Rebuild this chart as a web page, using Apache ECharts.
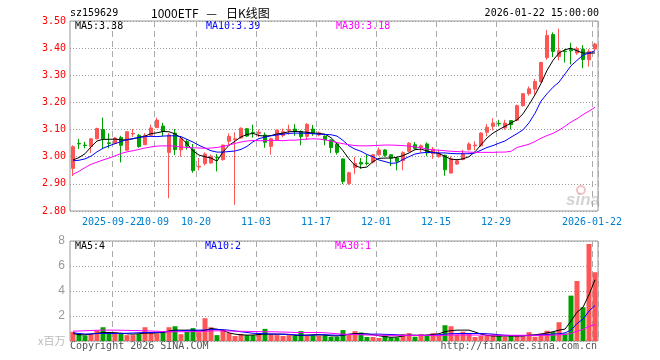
<!DOCTYPE html>
<html><head><meta charset="utf-8">
<script src="https://cdn.jsdelivr.net/npm/echarts@6/dist/echarts.min.js"></script>
<style>html,body{margin:0;padding:0;background:#fff;}#c{width:660px;height:360px;}</style>
</head><body><div id="c"></div>
<script>
const dates = ['2025-09-11','2025-09-12','2025-09-15','2025-09-16','2025-09-17','2025-09-18','2025-09-19','2025-09-22','2025-09-23','2025-09-24','2025-09-25','2025-09-26','2025-09-29','2025-09-30',
'2025-10-09','2025-10-10','2025-10-13','2025-10-14','2025-10-15','2025-10-16','2025-10-17','2025-10-20','2025-10-21','2025-10-22','2025-10-23','2025-10-24','2025-10-27','2025-10-28','2025-10-29','2025-10-30','2025-10-31',
'2025-11-03','2025-11-04','2025-11-05','2025-11-06','2025-11-07','2025-11-10','2025-11-11','2025-11-12','2025-11-13','2025-11-14','2025-11-17','2025-11-18','2025-11-19','2025-11-20','2025-11-21','2025-11-24','2025-11-25','2025-11-26','2025-11-27','2025-11-28',
'2025-12-01','2025-12-02','2025-12-03','2025-12-04','2025-12-05','2025-12-08','2025-12-09','2025-12-10','2025-12-11','2025-12-12','2025-12-15','2025-12-16','2025-12-17','2025-12-18','2025-12-19','2025-12-22','2025-12-23','2025-12-24','2025-12-25','2025-12-26','2025-12-29','2025-12-30','2025-12-31',
'2026-01-05','2026-01-06','2026-01-07','2026-01-08','2026-01-09','2026-01-12','2026-01-13','2026-01-14','2026-01-15','2026-01-16','2026-01-19','2026-01-20','2026-01-21','2026-01-22'];

const opens = [2.957,3.049,3.043,3.038,3.066,3.100,3.051,3.049,3.071,3.024,3.084,3.079,3.044,3.079,
3.107,3.113,3.016,3.087,3.025,3.056,3.027,2.962,2.975,2.977,2.998,2.989,3.057,3.063,3.069,3.103,3.090,
3.086,3.080,3.038,3.060,3.078,3.097,3.102,3.092,3.075,3.102,3.080,3.076,3.062,3.047,2.992,2.901,2.960,2.979,2.977,2.980,
3.007,3.025,3.007,2.995,2.986,3.020,3.044,3.035,3.047,3.011,3.000,3.005,2.940,2.973,2.990,3.026,3.040,3.040,3.090,3.112,3.123,3.106,3.133,
3.134,3.188,3.232,3.249,3.277,3.365,3.450,3.369,3.389,3.395,3.382,3.396,3.357,3.397];
const closes = [3.037,3.047,3.041,3.066,3.104,3.066,3.049,3.069,3.042,3.092,3.086,3.038,3.079,3.106,
3.135,3.093,3.080,3.026,3.066,3.039,2.949,2.965,3.010,3.002,2.996,3.043,3.075,3.066,3.105,3.076,3.087,
3.090,3.053,3.066,3.098,3.092,3.100,3.093,3.074,3.119,3.085,3.088,3.062,3.034,3.016,2.909,2.941,2.975,2.973,2.975,3.007,
3.025,3.005,2.995,2.983,3.015,3.050,3.030,3.040,3.014,3.028,3.011,2.952,2.992,2.985,3.010,3.047,3.043,3.087,3.109,3.124,3.121,3.124,3.118,
3.188,3.232,3.250,3.277,3.347,3.447,3.388,3.390,3.387,3.390,3.398,3.358,3.388,3.415];
const lows = [2.929,3.028,3.031,3.014,3.064,3.032,3.031,3.048,2.979,3.023,3.073,3.033,3.043,3.078,
3.106,3.076,2.847,3.006,3.000,3.026,2.941,2.950,2.968,2.974,2.946,2.986,3.043,2.823,3.067,3.073,3.070,
3.072,3.033,3.008,3.058,3.072,3.081,3.077,3.042,3.063,3.077,3.075,3.042,3.013,3.008,2.899,2.897,2.936,2.955,2.968,2.975,
3.004,3.000,2.965,2.950,2.950,3.017,3.027,3.015,3.002,2.992,2.997,2.930,2.938,2.970,2.987,3.023,3.024,3.038,3.075,3.097,3.112,3.100,3.100,
3.131,3.185,3.225,3.228,3.273,3.357,3.367,3.355,3.347,3.340,3.375,3.326,3.332,3.390];
const highs = [3.042,3.066,3.055,3.069,3.107,3.144,3.086,3.072,3.077,3.093,3.102,3.084,3.087,3.118,
3.144,3.125,3.087,3.102,3.075,3.064,3.047,2.995,3.016,3.008,3.010,3.044,3.086,3.090,3.108,3.106,3.118,
3.100,3.089,3.070,3.100,3.104,3.118,3.120,3.097,3.124,3.117,3.093,3.079,3.064,3.051,2.993,2.945,2.999,2.995,3.008,3.010,
3.034,3.028,3.010,3.000,3.020,3.054,3.054,3.045,3.053,3.036,3.026,3.008,3.001,2.990,3.026,3.053,3.057,3.090,3.120,3.142,3.136,3.136,3.135,
3.192,3.235,3.259,3.286,3.350,3.467,3.458,3.472,3.396,3.420,3.405,3.411,3.396,3.420];

const ma5 = [2.988,2.997,3.011,3.036,3.058,3.064,3.064,3.065,3.062,3.062,3.066,3.071,3.076,3.085,
3.088,3.093,3.092,3.084,3.070,3.048,3.022,3.006,3.000,2.995,2.984,3.018,3.042,3.057,3.073,3.082,3.086,
3.078,3.076,3.078,3.084,3.087,3.092,3.093,3.092,3.090,3.087,3.086,3.083,3.070,3.048,3.022,2.992,2.968,2.959,2.962,2.982,
2.994,2.995,2.995,2.998,3.004,3.014,3.026,3.028,3.021,3.016,3.012,3.001,2.991,2.989,2.992,3.000,3.018,3.044,3.069,3.087,3.100,3.112,3.124,
3.136,3.158,3.192,3.228,3.270,3.318,3.355,3.382,3.394,3.400,3.390,3.382,3.382,3.382];
const ma10 = [2.985,2.987,2.992,3.002,3.018,3.031,3.040,3.048,3.056,3.063,3.067,3.071,3.074,3.075,
3.074,3.076,3.077,3.077,3.074,3.064,3.054,3.042,3.032,3.022,3.017,3.017,3.019,3.021,3.027,3.038,3.055,
3.067,3.072,3.077,3.080,3.083,3.086,3.087,3.087,3.086,3.085,3.083,3.082,3.081,3.076,3.060,3.040,3.028,3.020,3.008,3.000,
2.988,2.982,2.976,2.977,2.990,3.000,3.010,3.014,3.016,3.015,3.014,3.014,3.012,3.011,3.011,3.011,3.014,3.024,3.034,3.041,3.050,3.058,3.072,
3.085,3.099,3.125,3.160,3.205,3.232,3.256,3.275,3.305,3.335,3.355,3.374,3.382,3.390];
const ma30 = [2.935,2.946,2.960,2.972,2.980,2.988,2.995,3.003,3.012,3.018,3.022,3.027,3.032,3.036,
3.039,3.040,3.040,3.039,3.036,3.034,3.033,3.032,3.031,3.032,3.034,3.038,3.043,3.049,3.054,3.058,3.060,
3.059,3.059,3.060,3.060,3.059,3.061,3.061,3.063,3.065,3.066,3.065,3.062,3.058,3.052,3.048,3.044,3.041,3.040,3.040,3.041,
3.042,3.043,3.043,3.042,3.041,3.039,3.036,3.033,3.028,3.025,3.024,3.022,3.020,3.019,3.018,3.017,3.016,3.016,3.016,3.016,3.017,3.017,3.020,
3.034,3.040,3.046,3.056,3.068,3.078,3.086,3.098,3.112,3.128,3.140,3.155,3.168,3.182];

const volumes = [0.74,0.60,0.45,0.53,0.87,1.10,0.66,0.68,0.60,0.47,
0.47,0.55,1.10,0.71,0.60,0.74,1.10,1.18,0.55,0.74,
1.03,0.71,1.82,1.10,0.47,0.92,0.63,0.40,0.55,0.47,
0.47,0.58,0.97,0.53,0.47,0.40,0.47,0.40,0.79,0.45,
0.47,0.45,0.47,0.34,0.34,0.87,0.53,0.79,0.68,0.32,
0.32,0.24,0.45,0.29,0.29,0.55,0.63,0.34,0.55,0.40,
0.63,0.45,1.26,1.18,0.53,0.74,0.55,0.32,0.40,0.40,
0.53,0.45,0.34,0.45,0.45,0.45,0.71,0.34,0.60,0.82,
0.71,1.50,0.60,3.63,4.80,2.70,7.76,5.50];
const vma5 = [0.60,0.50,0.50,0.55,0.62,0.68,0.68,0.66,0.62,0.58,
0.55,0.58,0.63,0.63,0.65,0.68,0.80,0.87,0.87,0.87,
0.85,0.80,0.85,1.00,0.95,0.85,0.65,0.55,0.50,0.47,
0.48,0.52,0.55,0.55,0.55,0.55,0.52,0.45,0.45,0.47,
0.50,0.52,0.48,0.42,0.40,0.45,0.55,0.60,0.60,0.57,
0.50,0.42,0.35,0.30,0.32,0.40,0.47,0.46,0.45,0.48,
0.52,0.58,0.75,0.83,0.87,0.87,0.87,0.72,0.55,0.45,
0.40,0.40,0.40,0.40,0.40,0.42,0.46,0.50,0.55,0.65,
0.74,0.87,0.95,1.60,2.30,2.70,3.70,4.90];
const vma10 = [0.65,0.60,0.56,0.57,0.60,0.60,0.60,0.60,0.61,0.62,
0.64,0.66,0.68,0.68,0.69,0.72,0.76,0.80,0.82,0.85,
0.87,0.87,0.88,0.90,0.92,0.90,0.87,0.80,0.74,0.68,
0.62,0.60,0.58,0.56,0.55,0.54,0.53,0.50,0.47,0.46,
0.47,0.49,0.50,0.48,0.46,0.50,0.52,0.53,0.55,0.55,
0.55,0.55,0.53,0.52,0.50,0.47,0.45,0.45,0.45,0.45,
0.46,0.50,0.55,0.58,0.60,0.60,0.60,0.60,0.60,0.58,
0.55,0.50,0.46,0.44,0.42,0.42,0.44,0.46,0.49,0.52,
0.55,0.58,0.65,0.87,1.40,1.75,2.40,2.84];
const vma30 = [0.79,0.80,0.82,0.84,0.86,0.87,0.87,0.87,0.86,0.85,
0.84,0.83,0.82,0.80,0.78,0.75,0.74,0.74,0.74,0.74,
0.75,0.76,0.78,0.80,0.82,0.81,0.80,0.79,0.78,0.77,
0.76,0.75,0.74,0.74,0.73,0.72,0.70,0.68,0.68,0.68,
0.68,0.68,0.66,0.62,0.58,0.55,0.53,0.52,0.50,0.48,
0.47,0.46,0.46,0.45,0.45,0.45,0.45,0.45,0.45,0.45,
0.45,0.45,0.46,0.47,0.48,0.48,0.48,0.48,0.47,0.47,
0.46,0.46,0.46,0.46,0.46,0.46,0.46,0.46,0.46,0.46,
0.47,0.50,0.52,0.60,0.79,0.92,1.18,1.32];

const tickDates = ['2025-09-22','2025-10-09','2025-10-20','2025-11-03','2025-11-17','2025-12-01','2025-12-15','2025-12-29','2026-01-22'];
const tickLabels = ['2025-09-22','10-09','10-20','11-03','11-17','12-01','12-15','12-29','2026-01-22'];
const priceTicks = [2.8, 3.5, 0.1];
const volTicks = [0, 8, 2];

const UP = '#ff5555', DOWN = '#00a000';
const MONO = 'DejaVu Sans Mono';
const candleData = dates.map((d, i) => [opens[i], closes[i], lows[i], highs[i]]);
const volData = volumes.map((v, i) => ({ value: v, itemStyle: { color: closes[i] >= opens[i] ? UP : DOWN } }));
const isTick = (i, v) => tickDates.indexOf(v) >= 0;
const isFirstTick = (i, v) => v === tickDates[0];
const isOtherTick = (i, v) => tickDates.indexOf(v) > 0;
const last = dates.length - 1;

const chart = echarts.init(document.getElementById('c'), null, { renderer: 'canvas' });
const txt = (x, y, text, fill, font, align) => ({
  type: 'text', silent: true,
  style: { x: x, y: y, text: text, fill: fill, font: font, textAlign: align || 'left', textVerticalAlign: 'middle' }
});
const labelStyle = (fn) => ({ interval: fn, hideOverlap: false, formatter: v => tickLabels[tickDates.indexOf(v)], color: '#0080d0',
  fontFamily: MONO, fontSize: 10, margin: 6, padding: [0, 6, 0, 0] });
chart.setOption({
  animation: false,
  backgroundColor: '#fff',
  grid: [
    { left: 70, top: 21, width: 528, height: 190, show: true, borderColor: '#999', borderWidth: 1, backgroundColor: 'transparent' },
    { left: 70, top: 241, width: 528, height: 100, show: true, borderColor: '#999', borderWidth: 1, backgroundColor: 'transparent' }
  ],
  xAxis: [
    { type: 'category', gridIndex: 0, data: dates, boundaryGap: true, position: 'bottom',
      axisLine: { show: false }, axisTick: { show: false },
      axisLabel: labelStyle(isOtherTick),
      splitLine: { show: true, interval: isTick, lineStyle: { color: '#aaa', width: 1, type: [6, 4] } } },
    { type: 'category', gridIndex: 1, data: dates, boundaryGap: true,
      axisLine: { show: false }, axisTick: { show: false }, axisLabel: { show: false },
      splitLine: { show: true, interval: isTick, lineStyle: { color: '#aaa', width: 1, type: [6, 4] } } },
    { type: 'category', gridIndex: 0, data: dates, boundaryGap: true, position: 'bottom', offset: 0,
      axisLine: { show: false }, axisTick: { show: false },
      axisLabel: labelStyle(isFirstTick),
      splitLine: { show: false } }
  ],
  yAxis: [
    { type: 'value', gridIndex: 0, min: priceTicks[0], max: priceTicks[1], interval: priceTicks[2],
      axisLine: { show: false }, axisTick: { show: false },
      axisLabel: { color: '#ff0000', fontFamily: MONO, fontSize: 10, margin: 4, formatter: v => v.toFixed(2) },
      splitLine: { show: true, lineStyle: { color: '#999', width: 1, type: [1, 2] } } },
    { type: 'value', gridIndex: 1, min: volTicks[0], max: volTicks[1], interval: volTicks[2],
      axisLine: { show: false }, axisTick: { show: false },
      axisLabel: { color: '#999', fontFamily: 'Liberation Sans', fontSize: 12, margin: 5, formatter: v => v === 0 ? '' : String(v) },
      splitLine: { show: true, lineStyle: { color: '#999', width: 1, type: [1, 2] } } }
  ],
  series: [
    { type: 'candlestick', xAxisIndex: 0, yAxisIndex: 0, data: candleData, barWidth: 4,
      itemStyle: { color: UP, color0: DOWN, borderColor: UP, borderColor0: DOWN, borderWidth: 1 } },
    { type: 'line', xAxisIndex: 0, yAxisIndex: 0, data: ma5, showSymbol: false, lineStyle: { color: '#000', width: 1 } },
    { type: 'line', xAxisIndex: 0, yAxisIndex: 0, data: ma10, showSymbol: false, lineStyle: { color: '#0000ff', width: 1 } },
    { type: 'line', xAxisIndex: 0, yAxisIndex: 0, data: ma30, showSymbol: false, lineStyle: { color: '#ff00ff', width: 1 } },
    { type: 'bar', xAxisIndex: 1, yAxisIndex: 1, data: volData, barWidth: 5 },
    { type: 'line', xAxisIndex: 1, yAxisIndex: 1, data: vma5, showSymbol: false, lineStyle: { color: '#000', width: 1 } },
    { type: 'line', xAxisIndex: 1, yAxisIndex: 1, data: vma10, showSymbol: false, lineStyle: { color: '#0000ff', width: 1 } },
    { type: 'line', xAxisIndex: 1, yAxisIndex: 1, data: vma30, showSymbol: false, lineStyle: { color: '#ff00ff', width: 1 } },
    { type: 'line', xAxisIndex: 2, yAxisIndex: 0, data: [], silent: true }
  ],
  graphic: [
    txt(70, 13.5, 'sz159629', '#000', '10px ' + MONO),
    txt(151, 13, '1000ETF', '#000', '12px "Noto Sans CJK SC"'),
    txt(211.5, 13, '—', '#000', '12px "Noto Sans CJK SC"', 'center'),
    txt(226, 13, '日K线图', '#000', '12px "Noto Sans CJK SC"'),
    txt(599, 13.5, dates[last] + ' 15:00:00', '#000', '10px ' + MONO, 'right'),
    txt(75, 26.5, 'MA5:' + ma5[last].toFixed(2), '#000', '10px ' + MONO),
    txt(206, 26.5, 'MA10:' + ma10[last].toFixed(2), '#0000ff', '10px ' + MONO),
    txt(336, 26.5, 'MA30:' + ma30[last].toFixed(2), '#ff00ff', '10px ' + MONO),
    txt(75, 246, 'MA5:' + Math.floor(vma5[last]), '#000', '10px ' + MONO),
    txt(205, 246, 'MA10:' + Math.floor(vma10[last]), '#0000ff', '10px ' + MONO),
    txt(335, 246, 'MA30:' + Math.floor(vma30[last]), '#ff00ff', '10px ' + MONO),
    txt(38, 341, 'x百万', '#bbb', '11px "Noto Sans CJK SC"'),
    txt(70, 346.5, 'Copyright 2026 SINA.COM', '#555', '10px ' + MONO),
    txt(597, 346.5, 'http://finance.sina.com.cn', '#555', '10px ' + MONO, 'right'),
    { type: 'circle', silent: true, shape: { cx: 581, cy: 190, r: 4 }, style: { fill: 'none', stroke: 'rgba(230,120,120,0.45)', lineWidth: 2 } },
    txt(566, 200, 'sina', 'rgba(160,160,160,0.45)', 'italic bold 17px "Liberation Sans"')
  ]
});
</script></body></html>
